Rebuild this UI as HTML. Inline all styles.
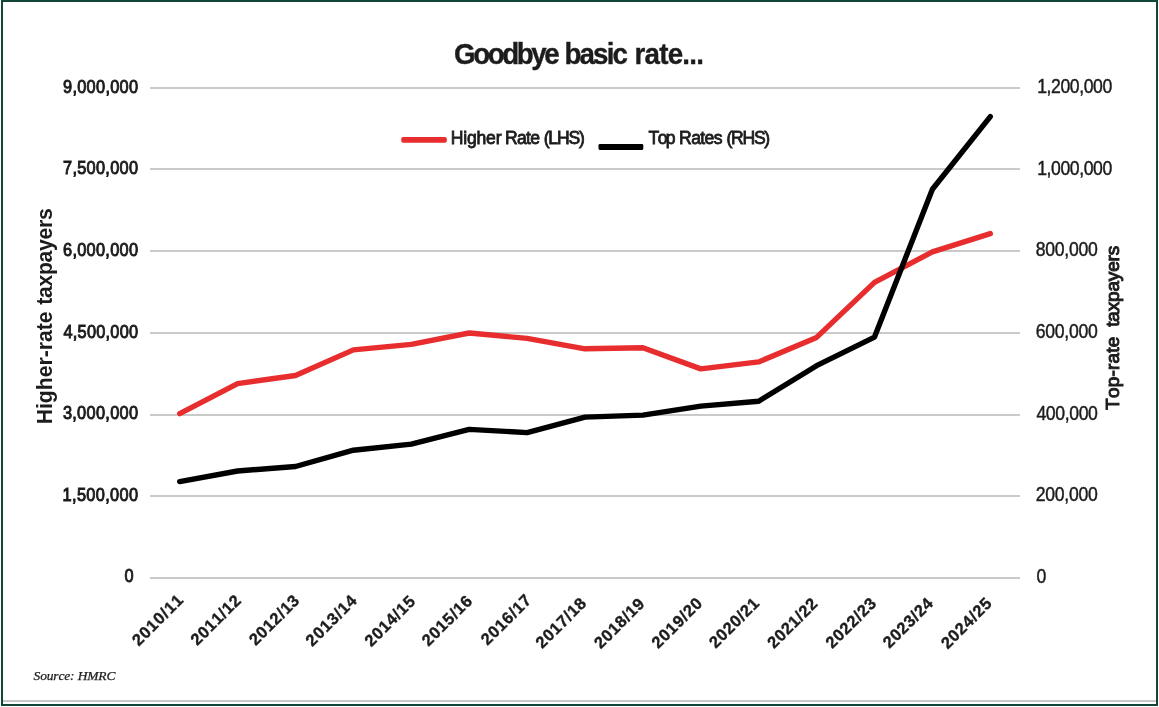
<!DOCTYPE html>
<html><head><meta charset="utf-8"><title>Goodbye basic rate...</title>
<style>
html,body{margin:0;padding:0;background:#fff;}
body{width:1159px;height:707px;overflow:hidden;font-family:"Liberation Sans",sans-serif;}
svg{display:block;will-change:transform;}
text{font-family:"Liberation Sans",sans-serif;fill:#1c1c1c;font-kerning:none;}
.ti{font-size:28.6px;font-weight:bold;stroke:#1c1c1c;stroke-width:0.35px;}
.lg{font-size:17.6px;stroke:#1c1c1c;stroke-width:0.8px;}
.lt{font-size:18.9px;stroke:#1c1c1c;stroke-width:1.0px;}
.rt{font-size:19.8px;stroke:#1c1c1c;stroke-width:0.45px;}
.xt{font-size:16.5px;font-weight:bold;stroke:#1c1c1c;stroke-width:0.35px;}
.yl{font-size:21.2px;font-weight:bold;}
.yr{font-size:19px;stroke:#1c1c1c;stroke-width:1.0px;}
.src{font-family:"Liberation Serif",serif;font-style:italic;font-size:13.5px;stroke:#1c1c1c;stroke-width:0.25px;}
</style></head><body>
<svg width="1159" height="707" viewBox="0 0 1159 707">
<rect x="0" y="0" width="1159" height="707" fill="#ffffff"/>
<rect x="3" y="700" width="1153" height="2" fill="#c9c7c7"/>
<rect x="2" y="1" width="1155" height="704" fill="none" stroke="#104538" stroke-width="2"/>
<rect x="150" y="87" width="870" height="2" fill="#cacaca"/>
<rect x="150" y="168" width="870" height="2" fill="#cacaca"/>
<rect x="150" y="250" width="870" height="2" fill="#cacaca"/>
<rect x="150" y="332" width="870" height="2" fill="#cacaca"/>
<rect x="150" y="414" width="870" height="2" fill="#cacaca"/>
<rect x="150" y="495" width="870" height="2" fill="#cacaca"/>
<rect x="150" y="577" width="870" height="2" fill="#cacaca"/>
<text class="ti" transform="translate(454.02,64.3) scale(0.97,1)" textLength="108.96" lengthAdjust="spacing">Goodbye</text>
<text class="ti" transform="translate(564.45,64.3) scale(0.97,1)" textLength="65.47" lengthAdjust="spacing">basic</text>
<text class="ti" transform="translate(634.55,64.3) scale(0.97,1)" textLength="71.51" lengthAdjust="spacing">rate...</text>
<rect x="401.2" y="136.9" width="45.7" height="5.9" rx="2.2" fill="#e72d2e"/>
<text class="lg" x="450.72" y="143.9" textLength="50.78" lengthAdjust="spacing">Higher</text>
<text class="lg" x="505.11" y="143.9" textLength="34.82" lengthAdjust="spacing">Rate</text>
<text class="lg" x="543.64" y="143.9" textLength="41.25" lengthAdjust="spacing">(LHS)</text>
<rect x="598.5" y="143.9" width="44.8" height="6.0" rx="1.3" fill="#000"/>
<text class="lg" x="648.53" y="143.9" textLength="27.07" lengthAdjust="spacing">Top</text>
<text class="lg" x="679.11" y="143.9" textLength="43.34" lengthAdjust="spacing">Rates</text>
<text class="lg" x="726.48" y="143.9" textLength="43.73" lengthAdjust="spacing">(RHS)</text>
<text class="lt" transform="translate(63.02,92.55) scale(0.865,1)" textLength="86.76" lengthAdjust="spacing">9,000,000</text>
<text class="lt" transform="translate(63.03,174.20) scale(0.865,1)" textLength="86.74" lengthAdjust="spacing">7,500,000</text>
<text class="lt" transform="translate(63.00,255.85) scale(0.865,1)" textLength="86.78" lengthAdjust="spacing">6,000,000</text>
<text class="lt" transform="translate(63.54,337.50) scale(0.865,1)" textLength="86.16" lengthAdjust="spacing">4,500,000</text>
<text class="lt" transform="translate(62.88,419.15) scale(0.865,1)" textLength="86.92" lengthAdjust="spacing">3,000,000</text>
<text class="lt" transform="translate(62.62,500.80) scale(0.865,1)" textLength="87.23" lengthAdjust="spacing">1,500,000</text>
<text class="lt" transform="translate(124.61,582.45) scale(0.865,1)" textLength="12.49" lengthAdjust="spacing">0</text>
<text class="rt" transform="translate(1037.19,93.15) scale(0.89,1)" textLength="84.35" lengthAdjust="spacing">1,200,000</text>
<text class="rt" transform="translate(1037.19,174.80) scale(0.89,1)" textLength="84.35" lengthAdjust="spacing">1,000,000</text>
<text class="rt" transform="translate(1035.77,256.45) scale(0.89,1)" textLength="69.77" lengthAdjust="spacing">800,000</text>
<text class="rt" transform="translate(1035.67,338.10) scale(0.89,1)" textLength="69.88" lengthAdjust="spacing">600,000</text>
<text class="rt" transform="translate(1036.39,419.75) scale(0.89,1)" textLength="69.08" lengthAdjust="spacing">400,000</text>
<text class="rt" transform="translate(1035.67,501.40) scale(0.89,1)" textLength="69.88" lengthAdjust="spacing">200,000</text>
<text class="rt" transform="translate(1036.38,583.05) scale(0.89,1)" textLength="12.13" lengthAdjust="spacing">0</text>
<text class="yl" transform="translate(51.9,424.32) rotate(-90)" textLength="112.93" lengthAdjust="spacing">Higher-rate</text>
<text class="yl" transform="translate(51.9,304.84) rotate(-90)" textLength="96.59" lengthAdjust="spacing">taxpayers</text>
<text class="yr" transform="translate(1118.6,409.89) rotate(-90)" textLength="73.33" lengthAdjust="spacing">Top-rate</text>
<text class="yr" transform="translate(1118.6,326.81) rotate(-90)" textLength="81.06" lengthAdjust="spacing">taxpayers</text>
<text class="xt" transform="translate(184.20,601.20) rotate(-45)" text-anchor="end" textLength="64.41" lengthAdjust="spacing">2010/11</text>
<text class="xt" transform="translate(241.90,601.70) rotate(-45)" text-anchor="end" textLength="63.05" lengthAdjust="spacing">2011/12</text>
<text class="xt" transform="translate(300.30,601.70) rotate(-45)" text-anchor="end" textLength="63.16" lengthAdjust="spacing">2012/13</text>
<text class="xt" transform="translate(357.80,601.70) rotate(-45)" text-anchor="end" textLength="64.29" lengthAdjust="spacing">2013/14</text>
<text class="xt" transform="translate(416.20,602.50) rotate(-45)" text-anchor="end" textLength="63.61" lengthAdjust="spacing">2014/15</text>
<text class="xt" transform="translate(473.20,602.20) rotate(-45)" text-anchor="end" textLength="63.27" lengthAdjust="spacing">2015/16</text>
<text class="xt" transform="translate(532.30,601.30) rotate(-45)" text-anchor="end" textLength="63.27" lengthAdjust="spacing">2016/17</text>
<text class="xt" transform="translate(587.20,604.40) rotate(-45)" text-anchor="end" textLength="63.50" lengthAdjust="spacing">2017/18</text>
<text class="xt" transform="translate(645.50,604.90) rotate(-45)" text-anchor="end" textLength="63.16" lengthAdjust="spacing">2018/19</text>
<text class="xt" transform="translate(703.20,604.40) rotate(-45)" text-anchor="end" textLength="63.50" lengthAdjust="spacing">2019/20</text>
<text class="xt" transform="translate(760.20,604.40) rotate(-45)" text-anchor="end" textLength="62.93" lengthAdjust="spacing">2020/21</text>
<text class="xt" transform="translate(818.60,604.80) rotate(-45)" text-anchor="end" textLength="62.93" lengthAdjust="spacing">2021/22</text>
<text class="xt" transform="translate(877.20,604.40) rotate(-45)" text-anchor="end" textLength="63.50" lengthAdjust="spacing">2022/23</text>
<text class="xt" transform="translate(934.10,604.40) rotate(-45)" text-anchor="end" textLength="63.05" lengthAdjust="spacing">2023/24</text>
<text class="xt" transform="translate(992.70,604.60) rotate(-45)" text-anchor="end" textLength="63.73" lengthAdjust="spacing">2024/25</text>
<polyline points="179.7,413.6 237.6,383.6 295.5,375.5 353.4,349.9 411.3,344.4 469.2,333.0 527.1,338.4 585.0,348.8 642.9,347.7 700.8,368.9 758.7,361.9 816.6,337.4 874.5,282.4 932.4,251.9 990.3,233.6" fill="none" stroke="#e72d2e" stroke-width="5.4" stroke-linecap="round" stroke-linejoin="round"/>
<polyline points="179.7,481.6 237.6,471.0 295.5,466.5 353.4,450.2 411.3,444.1 469.2,429.4 527.1,432.6 585.0,417.1 642.9,415.1 700.8,406.1 758.7,401.2 816.6,365.7 874.5,337.1 932.4,189.3 990.3,116.6" fill="none" stroke="#000000" stroke-width="5.4" stroke-linecap="round" stroke-linejoin="round"/>
<text class="src" x="33.6" y="680.0" textLength="81.8" lengthAdjust="spacing">Source: HMRC</text>
</svg></body></html>
